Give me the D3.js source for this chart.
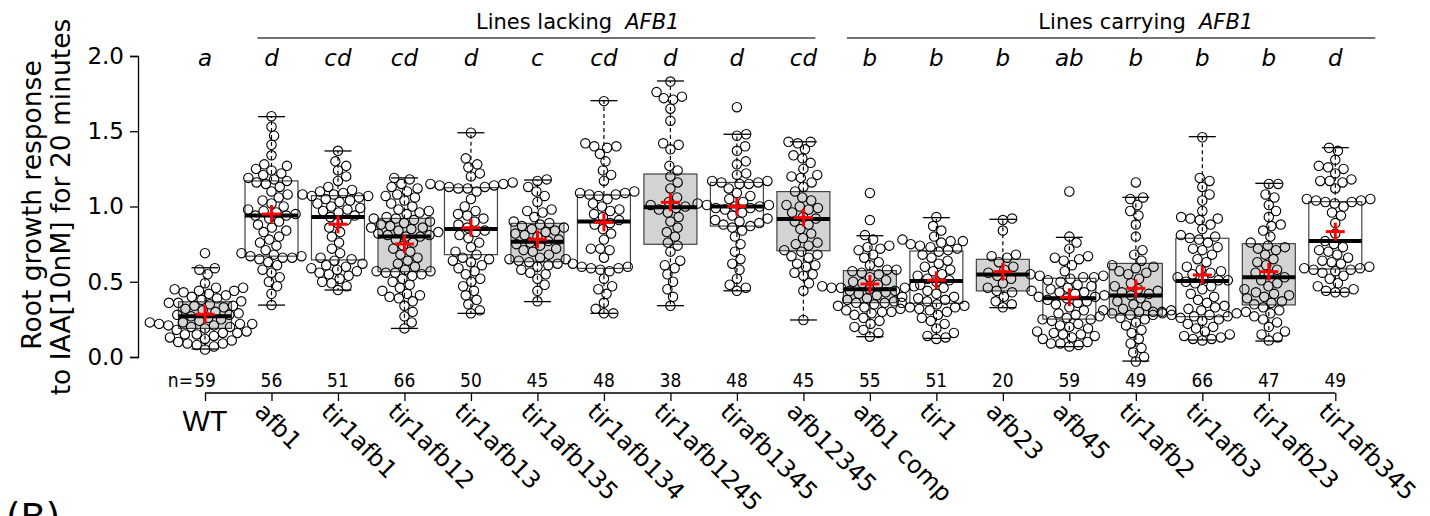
<!DOCTYPE html>
<html>
<head>
<meta charset="utf-8">
<script src="https://cdn.jsdelivr.net/npm/d3@7"></script>
<style>
  html, body { margin: 0; padding: 0; background: #fff; }
  svg { display: block; }
  text { font-family: "DejaVu Sans", sans-serif; fill: #000; }
  .narrow { font-family: "Liberation Sans Narrow", "Liberation Sans", sans-serif; font-stretch: condensed; }
</style>
</head>
<body>
<svg id="chart" width="1430" height="516"></svg>
<script>
// ---- data ----
const categories = ["WT", "afb1", "tir1afb1", "tir1afb12", "tir1afb13", "tir1afb135", "tir1afb134",
  "tir1afb1245", "tirafb1345", "afb12345", "afb1 comp", "tir1", "afb23", "afb45", "tir1afb2",
  "tir1afb3", "tir1afb23", "tir1afb345"];
const letters = ["a", "d", "cd", "cd", "d", "c", "cd", "d", "d", "cd", "b", "b", "b", "ab", "b", "b", "b", "d"];

// box statistics per line
const q1 =        [0.19, 0.67, 0.645, 0.567, 0.68, 0.633, 0.589, 0.749, 0.87, 0.706, 0.361, 0.357, 0.439, 0.252, 0.279, 0.268, 0.346, 0.585];
const medians =   [0.27, 0.94, 0.93, 0.80, 0.85, 0.766, 0.90, 0.995, 1.00, 0.917, 0.45, 0.505, 0.549, 0.39, 0.408, 0.505, 0.53, 0.771];
const q3 =        [0.367, 1.17, 1.072, 0.921, 1.125, 0.888, 1.076, 1.216, 1.16, 1.099, 0.574, 0.704, 0.649, 0.523, 0.622, 0.789, 0.753, 1.032];
const whiskerLo = [0.053, 0.345, 0.445, 0.19, 0.29, 0.368, 0.29, 0.341, 0.44, 0.246, 0.135, 0.124, 0.328, 0.069, -0.027, 0.113, 0.106, 0.43];
const whiskerHi = [0.593, 1.597, 1.369, 1.19, 1.49, 1.176, 1.703, 1.834, 1.48, 1.43, 0.806, 0.926, 0.915, 0.795, 1.061, 1.464, 1.154, 1.391];
const means =     [0.284, 0.95, 0.882, 0.751, 0.859, 0.782, 0.895, 1.028, 1.00, 0.926, 0.485, 0.51, 0.567, 0.397, 0.456, 0.545, 0.567, 0.833];

// individual root responses per line
const wt = [0.69,0.59,0.58,0.55,0.49,0.46,0.46,0.45,0.44,0.44,0.43,0.42,0.41,0.40,0.39,0.38,0.37,0.36,0.36,0.35,0.34,0.34,0.33,0.32,0.31,0.30,0.29,0.28,0.28,
  0.27,0.26,0.25,0.24,0.23,0.23,0.22,0.22,0.22,0.21,0.21,0.20,0.20,0.19,0.18,0.17,0.16,0.16,0.15,0.15,0.14,0.13,0.12,0.11,0.10,0.09,0.09,0.08,0.07,0.05];
const afb1 = [1.60,1.53,1.47,1.41,1.34,1.28,1.27,1.25,1.24,1.22,1.21,1.19,1.18,1.17,1.16,1.15,1.13,1.10,1.08,1.06,1.04,1.02,1.00,0.98,0.97,0.96,0.95,0.94,
  0.94,0.92,0.90,0.88,0.86,0.84,0.83,0.80,0.78,0.76,0.74,0.71,0.69,0.68,0.67,0.67,0.66,0.66,0.65,0.63,0.61,0.58,0.56,0.53,0.50,0.47,0.42,0.345];
const tir1afb1 = [1.37,1.30,1.27,1.24,1.20,1.17,1.13,1.11,1.10,1.09,1.08,1.08,1.07,1.07,1.06,1.05,1.04,1.03,1.02,1.00,0.99,0.98,0.97,0.96,0.94,0.93,
  0.91,0.89,0.86,0.83,0.80,0.76,0.72,0.69,0.66,0.65,0.64,0.62,0.61,0.60,0.59,0.58,0.57,0.56,0.55,0.54,0.52,0.50,0.49,0.47,0.445];
const tir1afb12 = [1.19,1.18,1.15,1.13,1.12,1.10,1.08,1.07,1.06,1.04,1.02,1.00,0.98,0.97,0.96,0.95,0.93,0.92,0.92,0.91,0.90,0.89,0.88,0.87,0.86,0.86,0.85,0.84,0.83,0.82,0.81,0.81,0.80,
  0.80,0.78,0.76,0.74,0.72,0.70,0.68,0.66,0.64,0.62,0.60,0.58,0.57,0.57,0.56,0.56,0.55,0.54,0.52,0.50,0.48,0.46,0.44,0.42,0.41,0.40,0.39,0.37,0.34,0.30,0.27,0.23,0.19];
const tir1afb13 = [1.49,1.32,1.28,1.26,1.22,1.20,1.16,1.15,1.15,1.14,1.14,1.13,1.13,1.12,1.12,1.10,1.05,1.00,0.97,0.95,0.94,0.92,0.90,0.88,0.86,
  0.84,0.83,0.81,0.79,0.76,0.73,0.70,0.68,0.66,0.65,0.64,0.63,0.61,0.59,0.57,0.55,0.52,0.50,0.47,0.44,0.41,0.38,0.35,0.31,0.29];
const tir1afb135 = [1.18,1.17,1.13,1.10,1.07,1.03,0.98,0.97,0.96,0.93,0.90,0.89,0.88,0.87,0.86,0.85,0.84,0.83,0.82,0.81,0.80,0.78,0.77,
  0.76,0.75,0.74,0.72,0.71,0.70,0.68,0.66,0.65,0.65,0.64,0.63,0.62,0.61,0.60,0.58,0.56,0.55,0.52,0.48,0.44,0.37];
const tir1afb134 = [1.70,1.42,1.40,1.40,1.39,1.35,1.30,1.24,1.21,1.17,1.10,1.09,1.09,1.08,1.08,1.07,1.05,1.02,1.00,0.98,0.97,0.95,0.93,0.91,
  0.89,0.88,0.85,0.82,0.78,0.72,0.72,0.71,0.66,0.62,0.60,0.60,0.59,0.59,0.58,0.57,0.52,0.47,0.45,0.42,0.36,0.32,0.29,0.29];
const tir1afb1245 = [1.83,1.76,1.73,1.72,1.71,1.65,1.57,1.42,1.41,1.38,1.27,1.24,1.20,1.16,1.12,1.06,1.03,1.01,1.00,
  0.99,0.98,0.96,0.93,0.90,0.86,0.83,0.80,0.76,0.74,0.70,0.64,0.61,0.59,0.55,0.50,0.45,0.40,0.34];
const tirafb1345 = [1.66,1.48,1.47,1.40,1.37,1.30,1.28,1.22,1.21,1.17,1.17,1.16,1.16,1.15,1.15,1.12,1.09,1.07,1.05,1.03,1.02,1.01,1.01,1.00,
  1.00,0.99,0.99,0.98,0.96,0.94,0.92,0.91,0.90,0.89,0.88,0.87,0.86,0.84,0.80,0.75,0.70,0.65,0.62,0.58,0.52,0.48,0.46,0.44];
const afb12345 = [1.43,1.43,1.42,1.38,1.34,1.32,1.29,1.25,1.21,1.20,1.19,1.16,1.13,1.10,1.06,1.04,1.01,1.00,0.99,0.98,0.96,0.93,0.92,
  0.90,0.88,0.85,0.82,0.79,0.76,0.75,0.74,0.71,0.70,0.68,0.67,0.66,0.62,0.61,0.60,0.56,0.55,0.54,0.49,0.44,0.246];
const afb1comp = [1.09,0.91,0.81,0.78,0.74,0.73,0.72,0.71,0.68,0.66,0.63,0.61,0.58,0.58,0.57,0.56,0.55,0.53,0.51,0.50,0.49,0.48,0.47,0.47,0.46,0.46,0.46,0.45,
  0.44,0.44,0.43,0.42,0.41,0.40,0.39,0.38,0.37,0.36,0.36,0.35,0.34,0.33,0.32,0.31,0.30,0.30,0.29,0.28,0.26,0.24,0.22,0.20,0.18,0.16,0.135];
const tir1 = [0.93,0.87,0.84,0.80,0.78,0.77,0.77,0.76,0.75,0.74,0.73,0.72,0.71,0.70,0.68,0.66,0.64,0.62,0.60,0.58,0.57,0.55,0.54,0.52,0.51,0.50,
  0.48,0.46,0.44,0.42,0.40,0.39,0.38,0.37,0.36,0.35,0.34,0.33,0.33,0.32,0.31,0.30,0.28,0.26,0.24,0.22,0.19,0.16,0.14,0.13,0.12];
const afb23 = [0.92,0.91,0.84,0.68,0.67,0.66,0.63,0.60,0.58,0.56,0.54,0.52,0.49,0.46,0.44,0.43,0.40,0.37,0.35,0.33];
const afb45 = [1.10,0.80,0.76,0.72,0.67,0.66,0.65,0.64,0.61,0.57,0.55,0.54,0.54,0.53,0.53,0.52,0.51,0.50,0.48,0.47,0.46,0.45,0.44,0.43,0.43,0.42,0.41,0.40,0.40,0.39,
  0.38,0.37,0.36,0.35,0.33,0.31,0.29,0.28,0.27,0.26,0.25,0.25,0.24,0.22,0.21,0.20,0.19,0.17,0.16,0.15,0.15,0.14,0.13,0.12,0.10,0.09,0.09,0.08,0.07];
const tir1afb2 = [1.16,1.06,1.05,1.01,0.97,0.94,0.88,0.80,0.71,0.68,0.64,0.61,0.60,0.59,0.57,0.56,0.55,0.52,0.49,0.47,0.45,0.44,0.43,0.42,0.41,
  0.39,0.37,0.35,0.34,0.32,0.31,0.31,0.30,0.30,0.29,0.28,0.28,0.26,0.25,0.23,0.21,0.18,0.16,0.12,0.09,0.06,0.03,0.00,-0.03];
const tir1afb3 = [1.46,1.19,1.17,1.13,1.08,1.04,0.97,0.93,0.92,0.92,0.91,0.88,0.85,0.81,0.80,0.79,0.78,0.76,0.73,0.72,0.71,0.68,0.65,0.63,0.60,0.58,0.57,0.56,0.55,0.53,0.52,0.51,0.51,
  0.50,0.49,0.47,0.45,0.42,0.40,0.38,0.36,0.34,0.33,0.32,0.31,0.30,0.30,0.29,0.29,0.28,0.28,0.27,0.27,0.26,0.25,0.24,0.22,0.20,0.19,0.17,0.15,0.14,0.13,0.12,0.12,0.11];
const tir1afb23 = [1.15,1.15,1.08,1.06,1.01,0.97,0.93,0.88,0.87,0.84,0.80,0.76,0.74,0.73,0.72,0.71,0.68,0.65,0.63,0.61,0.58,0.56,0.55,0.53,
  0.51,0.49,0.47,0.45,0.43,0.42,0.41,0.40,0.39,0.37,0.36,0.35,0.33,0.31,0.29,0.27,0.25,0.23,0.20,0.17,0.15,0.13,0.11];
const tir1afb345 = [1.39,1.37,1.31,1.27,1.26,1.25,1.22,1.18,1.17,1.17,1.16,1.12,1.05,1.05,1.04,1.04,1.03,1.03,1.02,1.00,0.96,0.94,0.89,0.82,0.77,
  0.75,0.73,0.71,0.70,0.68,0.66,0.64,0.63,0.62,0.60,0.59,0.59,0.58,0.58,0.57,0.56,0.54,0.52,0.49,0.47,0.45,0.44,0.43,0.43];

const responses = [wt, afb1, tir1afb1, tir1afb12, tir1afb13, tir1afb135, tir1afb134, tir1afb1245, tirafb1345,
  afb12345, afb1comp, tir1, afb23, afb45, tir1afb2, tir1afb3, tir1afb23, tir1afb345];

const yTicks = [0, 0.5, 1.0, 1.5, 2.0];

// ---- appearance ----
const boxFill = ["#d3d3d3", "#fff", "#fff", "#d3d3d3", "#fff", "#d3d3d3", "#fff", "#d3d3d3", "#fff",
  "#d3d3d3", "#d3d3d3", "#fff", "#d3d3d3", "#fff", "#d3d3d3", "#fff", "#d3d3d3", "#fff"];
const boxHalf = 26.5, capHalf = 13.5, pointR = 4.7, pointGap = 9.4;

const svg = d3.select("#chart");

const x = d3.scalePoint().domain(categories).range([205, 1335.3]);
const y = d3.scaleLinear().domain([0, 2]).range([357, 56]);

// y axis
const yAxis = svg.append("g").attr("transform", "translate(138,0)")
  .call(d3.axisLeft(y).tickValues(yTicks).tickFormat(d3.format(".1f")).tickSize(8).tickPadding(6));
yAxis.select(".domain").attr("stroke", "#000").attr("stroke-width", 1.3);
yAxis.selectAll(".tick line").attr("stroke", "#000").attr("stroke-width", 1.3);
yAxis.selectAll(".tick text").attr("font-family", "DejaVu Sans").attr("font-size", 23).attr("fill", "#000");

// y axis title, two lines
const yTitle = svg.append("g").attr("font-size", 26.5);
yTitle.append("text").attr("transform", "translate(41,205) rotate(-90)")
  .attr("text-anchor", "middle").text("Root growth response");
yTitle.append("text").attr("transform", "translate(70,207) rotate(-90)")
  .attr("text-anchor", "middle").text("to IAA[10nM] for 20 minutes");

// boxes
const boxes = svg.append("g");
categories.forEach((c, i) => {
  const cx = x(c);
  const g = boxes.append("g");
  // dashed whiskers
  g.append("line").attr("x1", cx).attr("x2", cx).attr("y1", y(q3[i])).attr("y2", y(whiskerHi[i]))
    .attr("stroke", "#000").attr("stroke-width", 1.2).attr("stroke-dasharray", "4,3");
  g.append("line").attr("x1", cx).attr("x2", cx).attr("y1", y(q1[i])).attr("y2", y(whiskerLo[i]))
    .attr("stroke", "#000").attr("stroke-width", 1.2).attr("stroke-dasharray", "4,3");
  // caps
  [whiskerHi[i], whiskerLo[i]].forEach(v => {
    g.append("line").attr("x1", cx - capHalf).attr("x2", cx + capHalf).attr("y1", y(v)).attr("y2", y(v))
      .attr("stroke", "#000").attr("stroke-width", 1.3);
  });
  g.append("rect").attr("x", cx - boxHalf).attr("width", 2 * boxHalf)
    .attr("y", y(q3[i])).attr("height", y(q1[i]) - y(q3[i]))
    .attr("fill", boxFill[i]).attr("stroke", "#444").attr("stroke-width", 1.2);
});

// beeswarm placement: each point as close to the centre line as possible without overlap
function swarm(vals) {
  const pts = vals.map(v => ({ v, py: y(v) })).sort((a, b) => a.v - b.v);
  const placed = [];
  const D2 = pointGap * pointGap;
  for (const p of pts) {
    const cands = [0];
    for (const q of placed) {
      const dy = Math.abs(q.py - p.py);
      if (dy < pointGap) {
        const dx = Math.sqrt(D2 - dy * dy);
        cands.push(q.dx + dx, q.dx - dx);
      }
    }
    cands.sort((a, b) => Math.abs(a) - Math.abs(b));
    for (const c of cands) {
      let ok = true;
      for (const q of placed) {
        if ((q.dx - c) ** 2 + (q.py - p.py) ** 2 < D2 - 0.01) { ok = false; break; }
      }
      if (ok) { p.dx = c; break; }
    }
    placed.push(p);
  }
  return placed;
}

// medians
const medG = svg.append("g");
categories.forEach((c, i) => {
  medG.append("line").attr("x1", x(c) - boxHalf).attr("x2", x(c) + boxHalf)
    .attr("y1", y(medians[i])).attr("y2", y(medians[i]))
    .attr("stroke", "#000").attr("stroke-width", 4);
});

// points
const ptsG = svg.append("g");
categories.forEach((c, i) => {
  const placed = swarm(responses[i]);
  ptsG.append("g").selectAll("circle").data(placed).join("circle")
    .attr("cx", d => x(c) + d.dx).attr("cy", d => d.py).attr("r", pointR)
    .attr("fill", "none").attr("stroke", "#000").attr("stroke-width", 1.1);
});

// means as red crosses
const meanG = svg.append("g");
categories.forEach((c, i) => {
  const cx = x(c), cy = y(means[i]);
  meanG.append("line").attr("x1", cx - 9.5).attr("x2", cx + 9.5).attr("y1", cy).attr("y2", cy)
    .attr("stroke", "#ff0000").attr("stroke-width", 3);
  meanG.append("line").attr("x1", cx).attr("x2", cx).attr("y1", cy - 9).attr("y2", cy + 9)
    .attr("stroke", "#ff0000").attr("stroke-width", 3);
});

// significance letters
svg.append("g").selectAll("text").data(categories).join("text")
  .attr("x", d => x(d)).attr("y", 66).attr("text-anchor", "middle")
  .attr("font-size", 23).attr("font-style", "italic")
  .text((d, i) => letters[i]);

// group headers
const hdr = svg.append("g").attr("font-size", 21);
hdr.append("line").attr("x1", x("afb1") - 14).attr("x2", x("afb12345") + 12).attr("y1", 38).attr("y2", 38)
  .attr("stroke", "#444").attr("stroke-width", 1.3);
hdr.append("line").attr("x1", x("afb1 comp") - 23).attr("x2", x("tir1afb345") + 40).attr("y1", 38).attr("y2", 38)
  .attr("stroke", "#444").attr("stroke-width", 1.3);
const h1 = hdr.append("text").attr("x", x("tir1afb13") + 5).attr("y", 29);
h1.append("tspan").text("Lines lacking");
h1.append("tspan").attr("dx", 13).attr("font-style", "italic").text("AFB1");
const h2 = hdr.append("text").attr("x", x("afb45") - 31).attr("y", 29);
h2.append("tspan").text("Lines carrying");
h2.append("tspan").attr("dx", 13).attr("font-style", "italic").text("AFB1");

// sample sizes
const nG = svg.append("g").attr("class", "narrow").attr("font-size", 19);
nG.selectAll("text.n").data(categories).join("text").attr("class", "n")
  .attr("x", d => x(d)).attr("y", 387).attr("text-anchor", "middle")
  .text((d, i) => responses[i].length);
nG.append("text").attr("x", x("WT") - 12).attr("y", 387).attr("text-anchor", "end").text("n=");

// category axis
const xAxis = svg.append("g").attr("transform", "translate(0,393)")
  .call(d3.axisBottom(x).tickSize(8).tickFormat(""));
xAxis.select(".domain").attr("d", `M${x.range()[0]},0H${x.range()[1]}`).attr("stroke", "#000").attr("stroke-width", 1.3);
xAxis.selectAll(".tick line").attr("stroke", "#000").attr("stroke-width", 1.3);

const labG = svg.append("g");
categories.forEach((c, i) => {
  if (i === 0) {
    labG.append("text").attr("class", "narrow").attr("x", x(c)).attr("y", 431)
      .attr("text-anchor", "middle").attr("font-size", 29).text(c);
  } else {
    labG.append("text").attr("transform", `translate(${x(c) - 18},${413}) rotate(45)`)
      .attr("font-size", 24).text(c);
  }
});

// panel tag
svg.append("text").attr("x", 6).attr("y", 530).attr("font-size", 37).text("(B)");
</script>
</body>
</html>
